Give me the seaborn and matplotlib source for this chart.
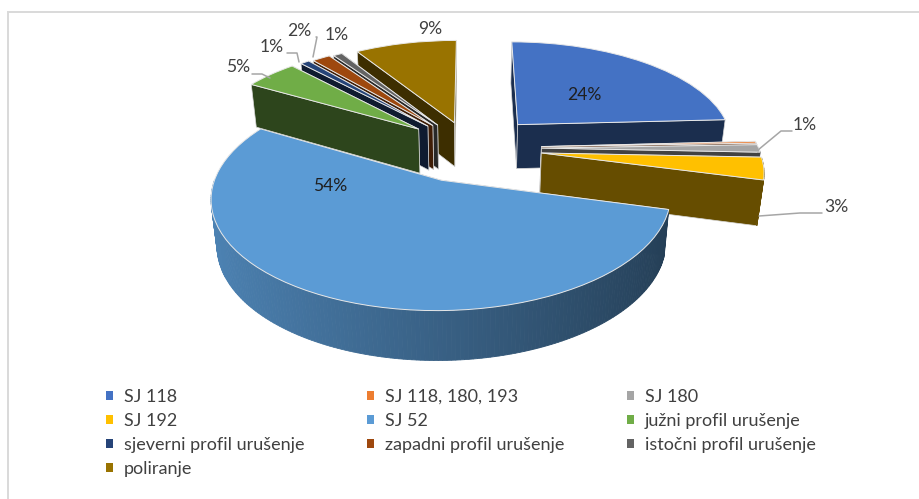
import numpy as np
import matplotlib
matplotlib.use('Agg')
import matplotlib.pyplot as plt
import seaborn as sns
from matplotlib.patches import Patch, Polygon
from matplotlib.transforms import Transform

categories = ['SJ 118', 'SJ 118, 180, 193', 'SJ 180', 'SJ 192', 'SJ 52',
              'južni profil urušenje', 'sjeverni profil urušenje',
              'zapadni profil urušenje', 'istočni profil urušenje', 'poliranje']
values = [24.5, 0.3, 1.2, 3.5, 55, 4.7, 0.8, 1.6, 0.8, 9]
pct_labels = ['24%', '1%', '3%', '54%', '5%', '1%', '2%', '1%', '9%']
colors = ['#4472C4', '#ED7D31', '#A5A5A5', '#FFC000', '#5B9BD5',
          '#70AD47', '#264478', '#9E480E', '#636363', '#997300']

sns.set_theme(style='white')
plt.rcParams['font.family'] = ['Lato', 'DejaVu Sans']

# view of the tilted pie, in pixels of the picture
XC, YC, RX, RY, P = 470, 148, 217, 101, 0.145
DEPTH, FY, FX = 44.7, 1.032, 0.977


class Tilt(Transform):
    input_dims = 2
    output_dims = 2
    is_separable = False

    def transform_non_affine(self, xy):
        xy = np.asarray(xy, dtype=float)
        s = 1 / (1 + P * xy[:, 1])
        return np.column_stack([XC + RX * xy[:, 0] * s, YC - RY * xy[:, 1] * s])


tilt = Tilt()


def to_px(u, v):
    return tilt.transform_non_affine(np.column_stack([u, v]))


def to_bottom(pts):
    return np.column_stack([XC + (pts[:, 0] - XC) * FX,
                            YC + (pts[:, 1] - YC) * FY + DEPTH])


def wall(ax, top, color, z, edge='#d9d9d9'):
    pts = np.vstack([top, to_bottom(top)[::-1]])
    ax.add_patch(Polygon(pts, closed=True, facecolor=color, edgecolor=edge,
                         linewidth=0.5, zorder=z))


fig = plt.figure(figsize=(9.2, 4.99), dpi=100)
ax = fig.add_axes([0, 0, 1, 1])

wedges, _ = ax.pie(values, colors=colors, startangle=90, counterclock=False,
                   explode=[0.33, 0.33, 0.33, 0.33, 0.33, 0.31, 0.30, 0.29, 0.28, 0.27],
                   radius=1, wedgeprops={'edgecolor': '#e8e8e8', 'linewidth': 0.7})

ax.set_aspect('auto')
ax.set(xlim=(0, 920), ylim=(499, 0))

# back slices first, the cut faces on the left lie over the big slice
draw_order = [0, 1, 2, 3, 4, 9, 8, 7, 6, 5]

for rank, i in enumerate(draw_order):
    w = wedges[i]
    base = np.array(sns.desaturate(colors[i], 1.0))
    dark = base * 0.4
    z = 10 + rank * 3
    cu, cv = w.center
    t1, t2 = np.radians(w.theta1), np.radians(w.theta2)

    apex = to_px([cu], [cv])
    rims = []
    for t in (t1, t2):
        rims.append(to_px([cu + np.cos(t)], [cv + np.sin(t)]))
    rims.sort(key=lambda r: r[0, 1])
    for rim in rims:
        wall(ax, np.vstack([apex, rim]), dark, z)

    # outer wall, only the part turned to the viewer
    th = np.linspace(t1, t2, max(int((t2 - t1) * 60), 2))
    for a, b in zip(th[:-1], th[1:]):
        mid = (a + b) / 2
        if np.sin(mid) > 0:
            continue
        f = 0.85 - 0.45 * (np.cos(mid) + 1) / 2
        quad = to_px(cu + np.cos([a, b]), cv + np.sin([a, b]))
        c = base * f
        pts = np.vstack([quad, to_bottom(quad)[::-1]])
        ax.add_patch(Polygon(pts, closed=True, facecolor=c, edgecolor=c,
                             linewidth=0.6, zorder=z + 1))

    w.set_transform(tilt + ax.transData)
    w.set_zorder(z + 2)
    w.set_clip_on(False)

# plot area frame
ax.plot([8.5, 8.5, 920], [499, 11.5, 11.5], color='#d9d9d9', lw=1.4, zorder=1,
        clip_on=False, solid_joinstyle='miter')

label_px = [(584, 95), (805, 125), (836, 207), (330, 186), (238, 67),
            (272, 47), (299, 31), (337, 35), (430, 29)]
for txt, (x, y) in zip(pct_labels, label_px):
    dark_txt = txt in ('24%', '54%')
    ax.text(x, y, txt, ha='center', va='center', fontsize=12.6,
            color='#1f1f1f' if dark_txt else '#404040', zorder=60)

leaders = [([758, 781, 792], [150, 131, 131]),
           ([759, 800, 822], [216, 213, 213]),
           ([252, 262, 270], [74, 74, 78]),
           ([287, 297, 299], [53, 53, 62]),
           ([316, 317, 313], [37, 37, 57])]
for xs, ys in leaders:
    ax.plot(xs, ys, color='#a6a6a6', lw=1.1, zorder=60)

handles = [Patch(facecolor=c, edgecolor='none', label=n) for c, n in zip(colors, categories)]
# matplotlib fills columns first, the picture reads row by row
col_order = [0, 3, 6, 9, 1, 4, 7, 2, 5, 8]
ax.legend([handles[i] for i in col_order], [categories[i] for i in col_order],
          ncol=3, loc='upper left', bbox_to_anchor=(106 / 920, 1 - 389 / 499),
          frameon=False, fontsize=13, handlelength=0.4, handleheight=0.4,
          handletextpad=0.6, labelspacing=0.44, columnspacing=3.45,
          labelcolor='#404040', borderpad=0, borderaxespad=0)

fig.savefig('out.png', dpi=100)
